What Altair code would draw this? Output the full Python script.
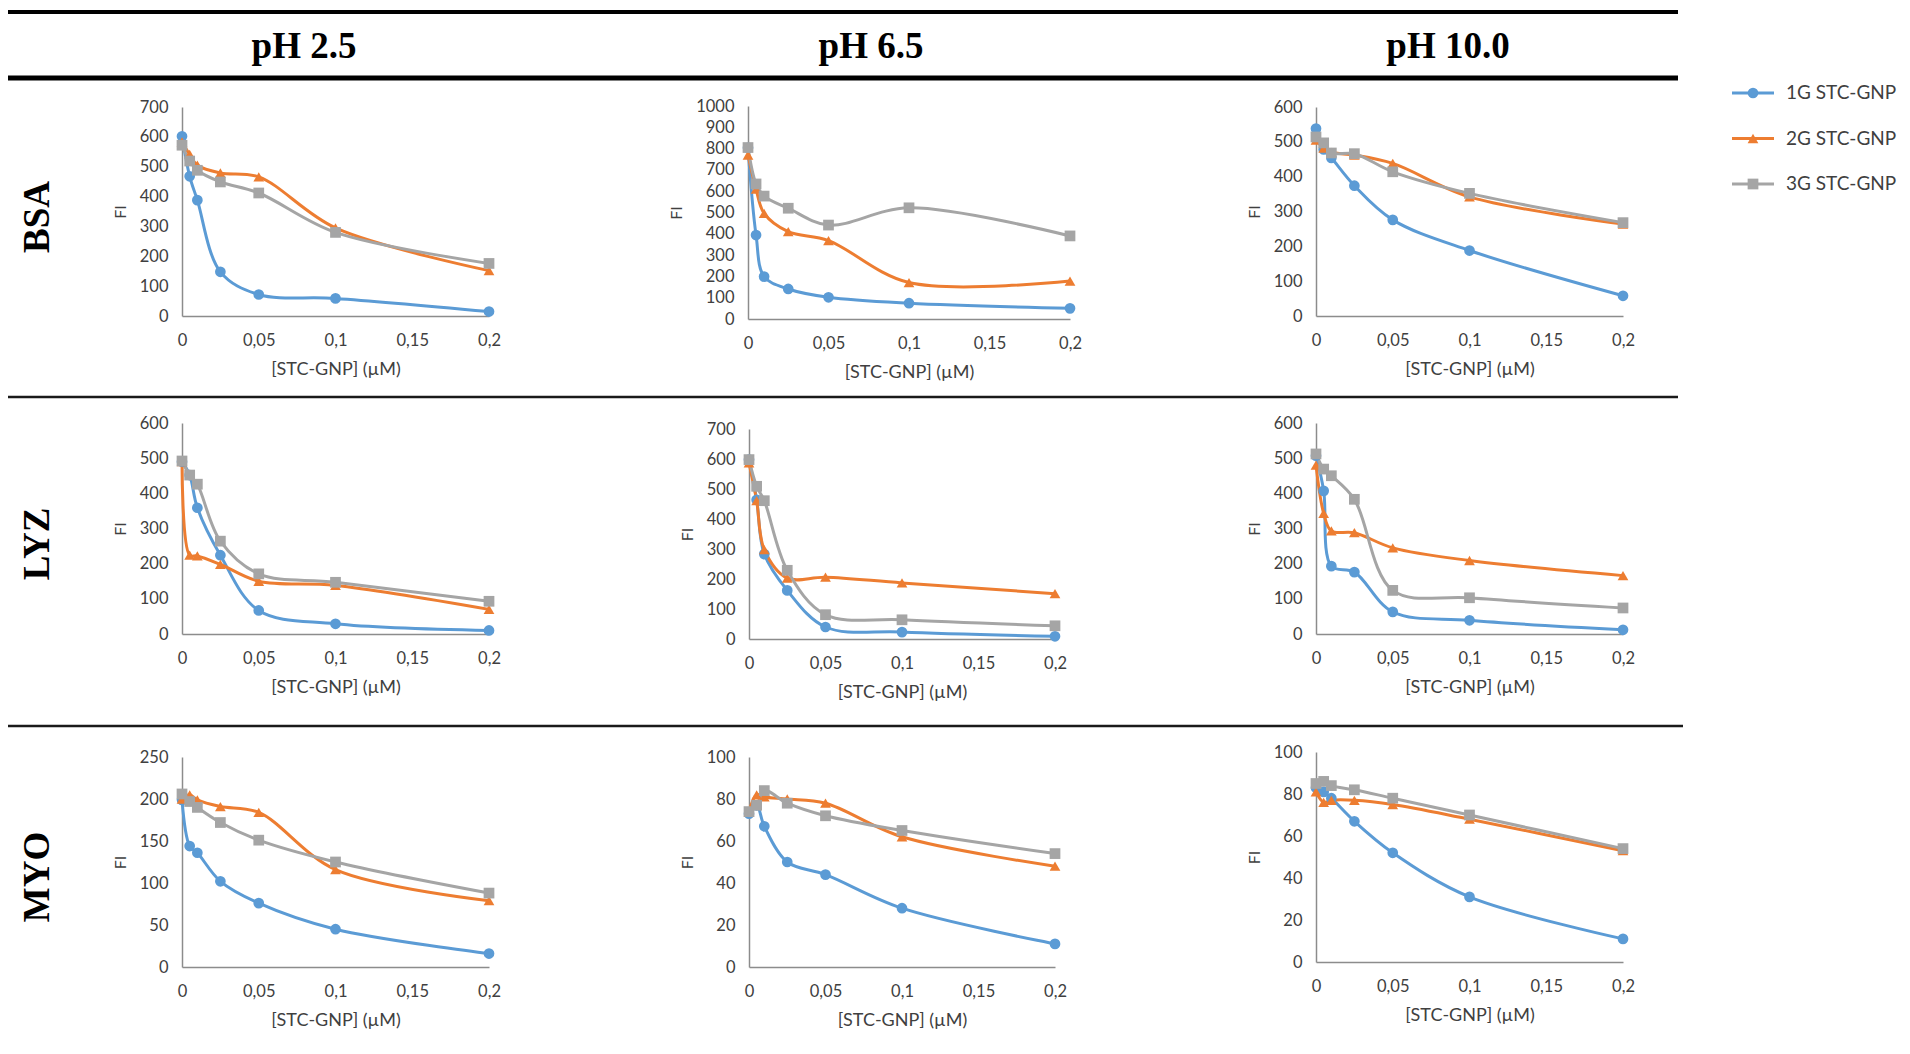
import altair as alt
import pandas as pd

# ---------------- data ----------------
conc = [0, 0.005, 0.01, 0.025, 0.05, 0.1, 0.2]
series_names = ["1G STC-GNP", "2G STC-GNP", "3G STC-GNP"]
series_colors = ["#5B9BD5", "#ED7D31", "#A5A5A5"]
series_shapes = ["circle", "triangle-up", "square"]
proteins = ["BSA", "LYZ", "MYO"]
ph_labels = ["pH 2.5", "pH 6.5", "pH 10.0"]
x_ticks = [0, 0.05, 0.1, 0.15, 0.2]

bsa_ph25_1g = [602, 468, 388, 148, 72, 59, 15]
bsa_ph25_2g = [583, 541, 505, 479, 466, 295, 152]
bsa_ph25_3g = [572, 519, 488, 449, 412, 280, 176]

bsa_ph65_1g = [804, 394, 199, 141, 102, 74, 50]
bsa_ph65_2g = [770, 610, 496, 410, 368, 171, 178]
bsa_ph65_3g = [805, 634, 577, 520, 441, 522, 390]

bsa_ph10_1g = [538, 478, 454, 374, 276, 188, 58]
bsa_ph10_2g = [505, 482, 470, 462, 438, 342, 264]
bsa_ph10_3g = [514, 497, 468, 466, 414, 352, 268]

lyz_ph25_1g = [490, 452, 359, 224, 67, 29, 10]
lyz_ph25_2g = [490, 224, 222, 198, 150, 138, 70]
lyz_ph25_3g = [492, 452, 426, 264, 171, 147, 93]

lyz_ph65_1g = [598, 464, 283, 162, 40, 23, 9]
lyz_ph65_2g = [587, 461, 298, 203, 206, 187, 151]
lyz_ph65_3g = [598, 509, 461, 229, 81, 64, 44]

lyz_ph10_1g = [507, 407, 193, 176, 63, 39, 12]
lyz_ph10_2g = [480, 343, 293, 288, 245, 209, 166]
lyz_ph10_3g = [512, 469, 450, 383, 124, 103, 74]

myo_ph25_1g = [199, 144, 136, 102, 76, 45, 16]
myo_ph25_2g = [200, 205, 199, 191, 184, 116, 79]
myo_ph25_3g = [206, 197, 190, 172, 151, 125, 88]

myo_ph65_1g = [73, 77, 67, 50, 44, 28, 11]
myo_ph65_2g = [74, 82, 81, 80, 78, 62, 48]
myo_ph65_3g = [74, 77, 84, 78, 72, 65, 54]

myo_ph10_1g = [83, 81, 78, 67, 52, 31, 11]
myo_ph10_2g = [81, 76, 77, 77, 75, 68, 53]
myo_ph10_3g = [85, 86, 84, 82, 78, 70, 54]

panel_series = {
    ("BSA", "pH 2.5"): [bsa_ph25_1g, bsa_ph25_2g, bsa_ph25_3g],
    ("BSA", "pH 6.5"): [bsa_ph65_1g, bsa_ph65_2g, bsa_ph65_3g],
    ("BSA", "pH 10.0"): [bsa_ph10_1g, bsa_ph10_2g, bsa_ph10_3g],
    ("LYZ", "pH 2.5"): [lyz_ph25_1g, lyz_ph25_2g, lyz_ph25_3g],
    ("LYZ", "pH 6.5"): [lyz_ph65_1g, lyz_ph65_2g, lyz_ph65_3g],
    ("LYZ", "pH 10.0"): [lyz_ph10_1g, lyz_ph10_2g, lyz_ph10_3g],
    ("MYO", "pH 2.5"): [myo_ph25_1g, myo_ph25_2g, myo_ph25_3g],
    ("MYO", "pH 6.5"): [myo_ph65_1g, myo_ph65_2g, myo_ph65_3g],
    ("MYO", "pH 10.0"): [myo_ph10_1g, myo_ph10_2g, myo_ph10_3g],
}
# y-axis max and step per panel
panel_yaxis = {
    ("BSA", "pH 2.5"): (700, 100), ("BSA", "pH 6.5"): (1000, 100), ("BSA", "pH 10.0"): (600, 100),
    ("LYZ", "pH 2.5"): (600, 100), ("LYZ", "pH 6.5"): (700, 100), ("LYZ", "pH 10.0"): (600, 100),
    ("MYO", "pH 2.5"): (250, 50), ("MYO", "pH 6.5"): (100, 20), ("MYO", "pH 10.0"): (100, 20),
}

# ---------------- layout (page pixels) ----------------
OFF = 8
W, H = 1894, 1038
panel_box = {  # x0, x1, ytop, ybottom
    ("BSA", "pH 2.5"): (182, 489, 107, 316),
    ("BSA", "pH 6.5"): (748, 1070, 106, 319),
    ("BSA", "pH 10.0"): (1316, 1623, 107, 316),
    ("LYZ", "pH 2.5"): (182, 489, 423, 634),
    ("LYZ", "pH 6.5"): (749, 1055, 429, 639),
    ("LYZ", "pH 10.0"): (1316, 1623, 423, 634),
    ("MYO", "pH 2.5"): (182, 489, 757, 967),
    ("MYO", "pH 6.5"): (749, 1055, 757, 967),
    ("MYO", "pH 10.0"): (1316, 1623, 752, 962),
}
header_pos = {"pH 2.5": (304, 47), "pH 6.5": (871, 47), "pH 10.0": (1448, 47)}
rowlabel_pos = {"BSA": (38, 217), "LYZ": (38, 544), "MYO": (38, 877)}

TICK_FONT = "Lato"
TXT = "#404040"

color_scale = alt.Scale(domain=series_names, range=series_colors)
shape_scale = alt.Scale(domain=series_names, range=series_shapes)

layers = []
for prot in proteins:
    for ph in ph_labels:
        key = (prot, ph)
        rows = []
        for name, vals in zip(series_names, panel_series[key]):
            for c, v in zip(conc, vals):
                rows.append({"series": name, "conc": c, "fi": v})
        df = pd.DataFrame(rows)
        x0, x1, yt, yb = panel_box[key]
        ymax, ystep = panel_yaxis[key]
        xs = alt.Scale(domain=[0, 0.2], range=[x0 - OFF, x1 - OFF], nice=False, zero=False)
        ys = alt.Scale(domain=[0, ymax], range=[yb - OFF, yt - OFF], nice=False, zero=False)
        x_axis = alt.Axis(
            orient="bottom", offset=(yb - OFF) - H, values=x_ticks,
            labelExpr="replace(format(datum.value, '~g'), '.', ',')",
            title="[STC-GNP] (µM)", grid=False, ticks=False,
            domainColor="#8c8c8c", domainWidth=1.5,
            labelFont=TICK_FONT, labelFontSize=16.5, labelColor=TXT, labelPadding=16,
            titleFont=TICK_FONT, titleFontSize=18, titleFontWeight="normal", titleColor=TXT,
            titlePadding=12, labelFlush=False, labelOverlap=False,
        )
        y_axis = alt.Axis(
            orient="left", offset=-(x0 - OFF), values=list(range(0, ymax + 1, ystep)),
            format="d", title="FI", grid=False, ticks=False,
            domainColor="#8c8c8c", domainWidth=1.5,
            labelFont=TICK_FONT, labelFontSize=16.5, labelColor=TXT, labelPadding=14,
            titleFont=TICK_FONT, titleFontSize=16, titleFontWeight="normal", titleColor=TXT,
            titlePadding=11, labelFlush=False, labelOverlap=False,
        )
        base = alt.Chart(df).encode(
            x=alt.X("conc:Q", scale=xs, axis=x_axis),
            y=alt.Y("fi:Q", scale=ys, axis=y_axis),
            color=alt.Color("series:N", scale=color_scale, legend=None),
        )
        line = base.mark_line(interpolate="catmull-rom", strokeWidth=3)
        pts = base.mark_point(filled=True, size=115, opacity=1).encode(
            shape=alt.Shape("series:N", scale=shape_scale, legend=None)
        )
        layers.append(alt.layer(line, pts))

one = pd.DataFrame({"k": [0]})

# horizontal rules
rule_specs = [  # y, x0, x1, width, color
    (12, 7, 1678, 4, "#000000"),
    (78, 7, 1678, 5, "#000000"),
    (397, 7, 1678, 2.5, "#1a1a1a"),
    (726, 7, 1683, 2.5, "#1a1a1a"),
]
for y, xa, xb, sw, col in rule_specs:
    layers.append(
        alt.Chart(one).mark_rule(strokeWidth=sw, color=col).encode(
            x=alt.value(xa - OFF), x2=alt.value(xb - OFF), y=alt.value(y - OFF)
        )
    )

# column headers
for ph in ph_labels:
    hx, hy = header_pos[ph]
    layers.append(
        alt.Chart(pd.DataFrame({"label": [ph]})).mark_text(
            font="Liberation Serif", fontSize=37, fontWeight="bold", color="#000000",
            align="center", baseline="middle",
        ).encode(x=alt.value(hx - OFF), y=alt.value(hy - OFF), text="label:N")
    )

# row labels
for prot in proteins:
    rx, ry = rowlabel_pos[prot]
    layers.append(
        alt.Chart(pd.DataFrame({"label": [prot]})).mark_text(
            font="Liberation Serif", fontSize=37, fontWeight="bold", color="#000000",
            align="center", baseline="middle", angle=270,
        ).encode(x=alt.value(rx - OFF), y=alt.value(ry - OFF), text="label:N")
    )

# legend
leg_df = pd.DataFrame({"series": series_names})
leg_y = alt.Y("series:N", scale=alt.Scale(type="point", domain=series_names,
                                           range=[93 - OFF, 184 - OFF], padding=0), axis=None)
leg_color = alt.Color("series:N", scale=color_scale, legend=None)
leg_rule = alt.Chart(leg_df).mark_rule(strokeWidth=3).encode(
    x=alt.value(1732 - OFF), x2=alt.value(1774 - OFF), y=leg_y, color=leg_color)
leg_pt = alt.Chart(leg_df).mark_point(filled=True, size=115, opacity=1).encode(
    x=alt.value(1753 - OFF), y=leg_y, color=leg_color,
    shape=alt.Shape("series:N", scale=shape_scale, legend=None))
leg_txt = alt.Chart(leg_df).mark_text(
    font=TICK_FONT, fontSize=19, color=TXT, align="left", baseline="middle"
).encode(x=alt.value(1786 - OFF), y=leg_y, text="series:N")
layers.append(alt.layer(leg_rule, leg_pt, leg_txt))

chart = alt.layer(*layers).resolve_scale(
    x="independent", y="independent"
).properties(
    width=W, height=H, autosize=alt.AutoSizeParams(type="none"), padding=0,
    background="#ffffff",
).configure_view(stroke=None)

chart.save("out.html", embed_options={"renderer": "svg", "actions": False})
